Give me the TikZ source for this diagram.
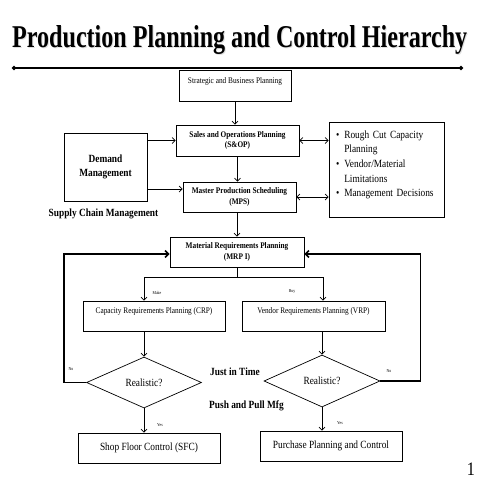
\documentclass[tikz,border=0pt]{standalone}
\usepackage{fontspec}
\setmainfont[FakeStretch=0.85]{Liberation Serif}
\usepackage{tikz}
\usetikzlibrary{arrows.meta,positioning,shapes}

\begin{document}
\begin{tikzpicture}
[x=1pt,y=-1pt,
box/.style={rectangle,draw,line width=0.7pt,inner sep=1pt,align=center},
cond/.style={diamond,draw,line width=0.7pt,inner sep=0pt,aspect=2.25},
arr/.style={line width=0.7pt,-{Straight Barb[length=3pt,width=6pt]}},
twin/.style={line width=0.7pt,{Straight Barb[length=3pt,width=6pt]}-{Straight Barb[length=3pt,width=6pt]}},
fb/.style={line width=1.6pt,-{Straight Barb[length=3.5pt,width=7pt]}},
sm/.style={font=\fontsize{8.6}{10.5}\selectfont},
smb/.style={font=\bfseries\fontsize{8.6}{10.5}\selectfont},
md/.style={font=\fontsize{11}{14.6}\selectfont},
mdb/.style={font=\bfseries\fontsize{11}{14.5}\selectfont},
tag/.style={font=\fontsize{4.5}{5}\selectfont,inner sep=0pt}]
\useasboundingbox (0,0) rectangle (480,480);

\node[anchor=base west,inner sep=0pt,gray!25] (shadow) at (13,48) {\resizebox{455pt}{22pt}{\bfseries Production Planning and Control Hierarchy}};
\node[anchor=base west,inner sep=0pt] (title) at (12,47) {\resizebox{455pt}{22pt}{\bfseries Production Planning and Control Hierarchy}};
\coordinate (ruleL) at (12,68);
\coordinate (ruleR) at (463,68);
\draw[line width=2pt,{Circle[length=4pt]}-{Circle[length=4pt]}] (ruleL) -- (ruleR);

\node[box,sm,minimum width=112pt,minimum height=31pt] (sbp) at (235,85.5) {Strategic and Business Planning\\ \mbox{}};
\node[box,smb,minimum width=123pt,minimum height=31pt] (sop) at (237.5,140.5) {Sales and Operations Planning\\(S\&OP)};
\node[box,mdb,minimum width=83pt,minimum height=68pt] (dem) at (105.5,167) {Demand\\Management};
\node[box,smb,minimum width=113pt,minimum height=30pt] (mps) at (239.5,197) {Master Production Scheduling\\(MPS)};
\node[box,md,minimum width=115pt,minimum height=95pt,text width=101pt,align=left] (rcc) at (386.5,169.5)
  {\begin{tabular}{@{}l@{\hspace{5pt}}l@{}}
   \textbullet & Rough Cut Capacity\\
               & Planning\\
   \textbullet & Vendor/Material\\
               & Limitations\\
   \textbullet & Management Decisions\\[10pt]
   \end{tabular}};
\node[mdb] (scm) at (103.5,214) {Supply Chain Management};
\node[box,smb,minimum width=134pt,minimum height=30pt] (mrp) at (237,252) {Material Requirements Planning\\(MRP I)};
\node[box,sm,minimum width=142pt,minimum height=30pt] (crp) at (154,316) {Capacity Requirements Planning (CRP)\\ \mbox{}};
\node[box,sm,minimum width=143pt,minimum height=30pt] (vrp) at (313.5,316) {Vendor Requirements Planning (VRP)\\ \mbox{}};
\node[cond,md,minimum width=115pt,minimum height=51pt] (rl) at (144,382.5) {Realistic?};
\node[cond,md,minimum width=116pt,minimum height=52pt] (rr) at (322,381) {Realistic?};
\node[mdb] (jit) at (235,372) {Just in Time};
\node[mdb] (ppm) at (246.5,406) {Push and Pull Mfg};
\node[box,md,minimum width=142pt,minimum height=30pt] (sfc) at (149,448) {Shop Floor Control (SFC)};
\node[box,md,minimum width=142pt,minimum height=30pt] (ppc) at (331,446) {Purchase Planning and Control};
\node[font=\fontsize{19}{19}\selectfont] (pg) at (471,469) {1};

\node[tag] (make) at (157,293) {Make};
\node[tag] (buy) at (292,292) {Buy};
\node[tag] (yesl) at (160,425) {Yes};
\node[tag] (yesr) at (340,423) {Yes};
\node[tag] (nol) at (71,369) {No};
\node[tag] (nor) at (389,371) {No};

\draw[arr] (sbp.south) -- (sbp.south |- sop.north);
\draw[arr] (sop.south) -- (sop.south |- mps.north);
\draw[arr] (mrp.north |- mps.south) -- (mrp.north);
\draw[arr] (dem.east |- sop.west) -- (sop.west);
\coordinate (dm) at ([yshift=8pt]mps.west);
\draw[arr] (dem.east |- dm) -- (dm);
\draw[twin] (sop.east) -- (sop.east -| rcc.west);
\draw[twin] (mps.east) -- (mps.east -| rcc.west);

\draw[line width=0.7pt] (mrp.south) -- ++(0,10) coordinate (fork);
\draw[arr] (fork) -| ([xshift=-10pt]crp.north);
\draw[arr] (fork) -| ([xshift=9.5pt]vrp.north);
\draw[arr] (crp.south -| rl) -- (rl.north);
\draw[arr] (vrp.south -| rr) -- (rr.north);
\draw[arr] (rl.south) -- (rl.south |- sfc.north);
\draw[arr] (rr.south) -- (rr.south |- ppc.north);
\draw[fb] (rl.west) -- ++(-22,0) |- ([yshift=-2pt]mrp.west);
\draw[fb] (rr.east) -- ++(40,0) |- ([yshift=-2pt]mrp.east);
\end{tikzpicture}
\end{document}
